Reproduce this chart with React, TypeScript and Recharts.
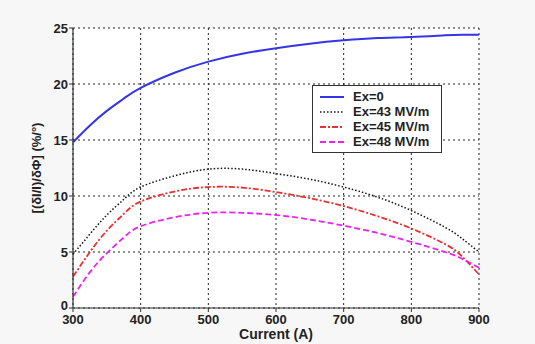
import React from "react";
import {
  LineChart,
  Line,
  XAxis,
  YAxis,
  CartesianGrid,
} from "recharts";

const currents = [300, 325, 350, 375, 400, 450, 500, 550, 600, 650, 700, 750, 800, 850, 875, 900];
const ex0 = [14.8, 16.3, 17.6, 18.7, 19.65, 21.0, 22.0, 22.7, 23.2, 23.6, 23.9, 24.1, 24.2, 24.35, 24.4, 24.4];
const ex43 = [4.8, 6.6, 8.3, 9.7, 10.8, 11.8, 12.4, 12.4, 12.0, 11.5, 10.8, 9.9, 8.7, 7.2, 6.2, 5.0];
const ex45 = [2.8, 5.0, 6.9, 8.4, 9.5, 10.4, 10.8, 10.75, 10.35, 9.8, 9.1, 8.2, 7.1, 5.7, 4.6, 3.0];
const ex48 = [1.0, 3.2, 4.9, 6.3, 7.3, 8.1, 8.5, 8.5, 8.3, 7.9, 7.35, 6.7, 5.9, 5.0, 4.4, 3.6];

const xTicks = [300, 400, 500, 600, 700, 800, 900];
const yTicks = [0, 5, 10, 15, 20, 25];

const series = [
  { key: "ex0", name: "Ex=0", color: "#3434e8", dash: "", width: 2 },
  { key: "ex43", name: "Ex=43 MV/m", color: "#111111", dash: "1.5 2", width: 1.5 },
  { key: "ex45", name: "Ex=45 MV/m", color: "#e83030", dash: "6 2 2 2", width: 1.8 },
  { key: "ex48", name: "Ex=48 MV/m", color: "#ee22ee", dash: "6 3", width: 1.8 },
];

const data = currents.map((c, i) => ({
  current: c,
  ex0: ex0[i],
  ex43: ex43[i],
  ex45: ex45[i],
  ex48: ex48[i],
}));

const font = "'Liberation Sans', Arial, sans-serif";
const textStyle = { fill: "#222", fontSize: 13, fontWeight: "bold", fontFamily: font };

// y tick: the "0" sits a bit higher so it clears the "300" below it
const YTick = (props: any) => {
  const { x, y, payload } = props;
  const lift = payload.value === 0 ? -3 : 0;
  return (
    <text x={x} y={y + lift} dy="0.355em" textAnchor="end" {...textStyle}>
      {payload.value}
    </text>
  );
};

const LegendBox = () => (
  <div
    style={{
      position: "absolute",
      left: 312,
      top: 85,
      border: "1px solid #333",
      background: "#fff",
      width: 128,
      padding: "3px 0",
      fontFamily: font,
      fontWeight: "bold",
      fontSize: 13,
      color: "#222",
    }}
  >
    {series.map((s) => (
      <div key={s.key} style={{ display: "flex", alignItems: "center", height: 15 }}>
        <svg width={40} height={10}>
          <line
            x1={7}
            x2={31}
            y1={5}
            y2={5}
            stroke={s.color}
            strokeWidth={s.width}
            strokeDasharray={s.dash}
          />
        </svg>
        <span>{s.name}</span>
      </div>
    ))}
  </div>
);

export default function App() {
  return (
    <div style={{ position: "absolute", left: 0, top: 0, width: 535, height: 344, background: "#f7f7f7" }}>
      <LineChart
        width={535}
        height={344}
        data={data}
        margin={{ top: 28, right: 56, bottom: 0, left: 0 }}
      >
        <CartesianGrid
          xAxisId="main"
          yAxisId="main"
          stroke="#222"
          strokeDasharray="2 3"
          strokeWidth={1}
          fill="#ffffff"
          fillOpacity={1}
        />
        <XAxis
          xAxisId="main"
          dataKey="current"
          type="number"
          domain={[300, 900]}
          ticks={xTicks}
          height={36}
          tickSize={4}
          tickLine={{ stroke: "#333" }}
          axisLine={{ stroke: "#333", strokeWidth: 1.2 }}
          tick={textStyle}
          tickMargin={3}
          label={{
            value: "Current (A)",
            position: "insideBottom",
            offset: 5,
            style: { ...textStyle, fontSize: 14 },
          }}
        />
        <XAxis
          xAxisId="top"
          orientation="top"
          dataKey="current"
          type="number"
          domain={[300, 900]}
          height={0}
          tick={false}
          tickLine={false}
          axisLine={{ stroke: "#333", strokeWidth: 1.2 }}
        />
        <YAxis
          yAxisId="main"
          type="number"
          domain={[0, 25]}
          ticks={yTicks}
          width={73}
          tickSize={4}
          tickLine={{ stroke: "#333" }}
          axisLine={{ stroke: "#333", strokeWidth: 1.2 }}
          tick={<YTick />}
          tickMargin={1}
          label={{
            value: "[(δI/I)/δΦ] (%/°)",
            angle: -90,
            position: "insideLeft",
            offset: 36,
            style: { ...textStyle, textAnchor: "middle" },
          }}
        />
        <YAxis
          yAxisId="right"
          orientation="right"
          domain={[0, 25]}
          width={0}
          tick={false}
          tickLine={false}
          axisLine={{ stroke: "#333", strokeWidth: 1.2 }}
        />
        {series.map((s) => (
          <Line
            key={s.key}
            xAxisId="main"
            yAxisId="main"
            type="natural"
            dataKey={s.key}
            name={s.name}
            stroke={s.color}
            strokeWidth={s.width}
            strokeDasharray={s.dash}
            dot={false}
            isAnimationActive={false}
          />
        ))}
      </LineChart>
      <LegendBox />
    </div>
  );
}
